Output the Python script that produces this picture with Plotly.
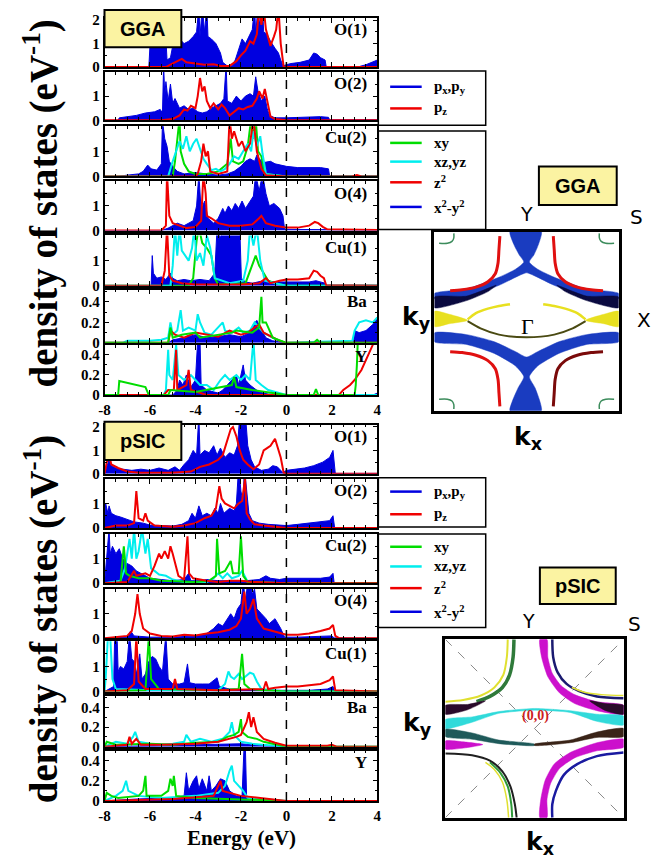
import plotly.graph_objects as go

W, H = 668, 868
SERIF = "Liberation Serif"
SANS = "DejaVu Sans"
BLUE, RED, GREEN, CYAN = "#0000e0", "#f00000", "#00dd00", "#00eeee"

ENERGY_TICKS = [-8, -6, -4, -2, 0, 2, 4]
PANEL_NAMES = ["O(1)", "O(2)", "Cu(2)", "O(4)", "Cu(1)", "Ba", "Y"]
O_LEGEND = ["p<sub>x</sub>,p<sub>y</sub>", "p<sub>z</sub>"]
CU_LEGEND = ["xy", "xz,yz", "z<sup>2</sup>", "x<sup>2</sup>-y<sup>2</sup>"]

# ---------------- GGA DOS (energy eV, states/eV) ----------------
GGA_O1_PXPY = [(-8,0),(-6.05,0),(-6.0,0.9),(-5.95,1.3),(-5.8,1.35),(-5.6,1.3),(-5.4,1.4),(-5.3,1.2),(-5.25,0.3),(-5.1,0.4),(-5.0,0.9),(-4.9,1.4),(-4.8,1.0),(-4.7,1.2),(-4.5,1.0),(-4.3,1.1),(-4.1,1.3),(-3.95,1.5),(-3.85,2.6),(-3.8,1.3),(-3.7,2.6),(-3.6,1.5),(-3.5,2.6),(-3.45,1.3),(-3.3,1.2),(-3.1,1.0),(-2.9,0.6),(-2.8,0.2),(-2.6,0.05),(-2.4,0.05),(-2.25,0.3),(-2.1,0.8),(-1.95,1.2),(-1.8,1.0),(-1.65,1.3),(-1.5,1.6),(-1.4,2.6),(-1.35,1.4),(-1.25,2.6),(-1.2,1.8),(-1.05,2.6),(-1.0,1.5),(-0.85,1.4),(-0.7,1.1),(-0.5,0.8),(-0.35,0.6),(-0.25,0.3),(-0.15,0.05),(0.0,0.1),(0.2,0.15),(0.6,0.2),(1.0,0.3),(1.2,0.6),(1.35,0.55),(1.5,0.4),(1.7,0.3),(1.75,0.02),(3.2,0.02),(3.5,0.1),(3.8,0.2),(4.0,0.3)]
GGA_O1_PZ = [(-8,0),(-5.3,0),(-5.1,0.1),(-4.8,0.25),(-4.6,0.35),(-4.4,0.2),(-4.0,0.15),(-3.6,0.1),(-3.2,0.12),(-2.9,0.05),(-2.5,0.05),(-2.2,0.25),(-2.0,0.5),(-1.8,0.7),(-1.6,1.1),(-1.45,1.0),(-1.3,1.4),(-1.2,2.5),(-1.1,1.8),(-1.0,2.5),(-0.9,1.6),(-0.8,1.2),(-0.7,0.9),(-0.55,1.3),(-0.45,1.6),(-0.35,2.5),(-0.25,1.0),(-0.12,0.0),(4,0)]
GGA_O2_PXPY = [(-8,0),(-7.4,0),(-7.35,0.1),(-7.0,0.15),(-6.6,0.2),(-6.2,0.3),(-5.8,0.35),(-5.55,0.45),(-5.45,0.3),(-5.4,2.3),(-5.35,1.0),(-5.3,1.6),(-5.2,0.8),(-5.1,1.5),(-5.0,0.7),(-4.9,0.9),(-4.7,0.5),(-4.5,0.6),(-4.3,0.45),(-4.1,0.5),(-3.9,0.35),(-3.7,0.3),(-3.5,0.35),(-3.3,0.5),(-3.1,0.6),(-2.9,0.7),(-2.75,0.9),(-2.65,2.3),(-2.6,0.8),(-2.4,0.7),(-2.2,1.0),(-2.0,0.8),(-1.8,1.0),(-1.6,1.1),(-1.45,1.0),(-1.35,1.8),(-1.25,1.2),(-1.1,0.8),(-0.95,1.0),(-0.85,0.5),(-0.75,0.2),(-0.5,0.1),(0,0.1),(0.5,0.12),(1.0,0.15),(1.5,0.15),(1.85,0.12),(1.9,0.02),(4,0.02)]
GGA_O2_PZ = [(-8,0),(-5.5,0),(-5.0,0.05),(-4.7,0.2),(-4.5,0.45),(-4.35,0.4),(-4.2,0.6),(-4.0,0.5),(-3.9,1.0),(-3.8,1.75),(-3.7,1.2),(-3.6,1.4),(-3.5,0.8),(-3.35,0.5),(-3.2,0.7),(-3.0,0.45),(-2.85,0.65),(-2.7,0.5),(-2.5,0.2),(-2.3,0.35),(-2.1,0.5),(-1.9,0.45),(-1.7,0.55),(-1.5,0.6),(-1.3,0.9),(-1.2,1.2),(-1.05,0.9),(-0.95,1.3),(-0.85,0.8),(-0.7,0.15),(-0.5,0.05),(0,0),(4,0)]
GGA_CU2_XY = [(-8,0),(-5.0,0),(-4.9,0.6),(-4.8,1.4),(-4.7,2.3),(-4.65,1.0),(-4.5,0.5),(-4.3,0.2),(-4.0,0.1),(-3.5,0.1),(-3.0,0.2),(-2.6,0.5),(-2.45,1.5),(-2.35,0.6),(-2.1,0.5),(-1.9,0.6),(-1.7,1.2),(-1.55,2.3),(-1.45,1.5),(-1.35,2.3),(-1.25,1.0),(-1.1,0.8),(-0.95,0.1),(0,0),(4,0)]
GGA_CU2_XZYZ = [(-8,0),(-5.2,0),(-5.0,0.6),(-4.85,1.0),(-4.7,1.4),(-4.55,1.1),(-4.4,1.6),(-4.25,1.0),(-4.1,1.3),(-3.95,1.5),(-3.8,1.1),(-3.65,0.7),(-3.5,0.5),(-3.3,0.25),(-3.1,0.3),(-2.9,0.2),(-2.7,0.3),(-2.5,0.5),(-2.3,0.8),(-2.1,0.7),(-1.9,1.0),(-1.7,1.3),(-1.55,1.0),(-1.45,1.8),(-1.3,1.2),(-1.15,1.6),(-1.05,0.9),(-0.9,0.1),(0,0),(4,0)]
GGA_CU2_Z2 = [(-8,0),(-4.0,0),(-3.9,0.1),(-3.75,0.6),(-3.65,1.3),(-3.55,0.8),(-3.45,1.0),(-3.35,0.2),(-3.0,0.1),(-2.6,0.2),(-2.5,2.3),(-2.4,1.5),(-2.3,1.8),(-2.1,1.2),(-1.95,1.4),(-1.8,1.0),(-1.6,1.3),(-1.45,2.3),(-1.3,1.0),(-1.1,0.3),(-0.9,0.05),(0,0),(2.9,0),(3.1,0.05),(3.3,0),(4,0)]
GGA_CU2_X2Y2 = [(-8,0),(-7.4,0),(-7.0,0.05),(-6.5,0.1),(-6.3,0.2),(-6.1,0.45),(-5.95,0.3),(-5.7,0.25),(-5.5,0.5),(-5.45,2.2),(-5.35,1.5),(-5.25,1.2),(-5.15,0.6),(-5.0,0.4),(-4.8,0.2),(-4.5,0.1),(-4.0,0.15),(-3.5,0.1),(-3.0,0.05),(-2.6,0.1),(-2.3,0.2),(-2.0,0.4),(-1.8,0.6),(-1.6,0.7),(-1.4,0.6),(-1.3,0.85),(-1.2,0.7),(-1.0,0.55),(-0.7,0.6),(-0.5,0.5),(-0.2,0.45),(0,0.4),(0.5,0.35),(1.0,0.35),(1.5,0.35),(1.85,0.3),(1.9,0.02),(4,0.02)]
GGA_O4_PXPY = [(-8,0),(-5.5,0),(-5.2,0.1),(-4.8,0.3),(-4.5,0.2),(-4.1,0.4),(-3.95,1.0),(-3.85,2.3),(-3.75,0.8),(-3.6,1.2),(-3.45,0.5),(-3.2,0.3),(-3.0,0.5),(-2.8,0.9),(-2.7,0.7),(-2.55,1.0),(-2.4,0.8),(-2.25,1.1),(-2.1,0.9),(-1.95,1.2),(-1.8,0.9),(-1.6,1.2),(-1.45,1.4),(-1.35,2.3),(-1.2,1.6),(-1.05,2.3),(-0.9,1.5),(-0.75,1.0),(-0.55,1.1),(-0.3,0.9),(-0.15,0.6),(-0.08,0.05),(0.5,0.05),(1.5,0.05),(3.0,0.02),(4,0.02)]
GGA_O4_PZ = [(-8,0),(-5.5,0),(-5.3,0.2),(-5.25,2.3),(-5.15,0.6),(-5.0,0.3),(-4.7,0.2),(-4.4,0.1),(-4.0,0.15),(-3.75,0.4),(-3.65,2.3),(-3.55,1.5),(-3.5,0.6),(-3.3,0.5),(-3.0,0.3),(-2.5,0.2),(-2.0,0.2),(-1.5,0.25),(-1.2,0.5),(-1.1,0.6),(-0.9,0.3),(-0.5,0.2),(0,0.12),(0.5,0.12),(1.0,0.2),(1.25,0.35),(1.4,0.3),(1.6,0.15),(1.8,0.05),(3.0,0.02),(4,0.02)]
GGA_CU1_XY = [(-8,0),(-4.3,0),(-4.1,0.3),(-3.95,1.8),(-3.85,2.3),(-3.7,1.7),(-3.5,1.5),(-3.3,1.2),(-3.15,0.3),(-3.0,0.05),(-1.8,0.1),(-1.5,0.8),(-1.35,1.2),(-1.2,0.8),(-1.0,0.5),(-0.8,0.2),(-0.5,0.1),(0,0),(4,0)]
GGA_CU1_XZYZ = [(-8,0),(-5.1,0),(-5.0,0.8),(-4.9,2.3),(-4.8,1.2),(-4.7,2.3),(-4.6,1.4),(-4.45,1.2),(-4.3,1.0),(-4.15,1.5),(-4.05,2.3),(-3.95,1.0),(-3.8,1.3),(-3.65,0.8),(-3.5,2.0),(-3.35,1.5),(-3.15,0.3),(-2.5,0.1),(-1.9,0.2),(-1.7,1.0),(-1.6,2.3),(-1.45,1.6),(-1.3,2.3),(-1.15,1.0),(-0.95,0.2),(-0.5,0.1),(0,0),(4,0)]
GGA_CU1_Z2 = [(-8,0),(-5.5,0),(-5.35,0.6),(-5.25,2.3),(-5.15,0.4),(-5.0,0.2),(-4.6,0.1),(-4.0,0.05),(-2.0,0.05),(-1.2,0.1),(-0.9,0.3),(-0.7,0.1),(-0.3,0.2),(0,0.25),(0.5,0.25),(1.0,0.3),(1.2,0.6),(1.35,0.55),(1.5,0.4),(1.65,0.3),(1.75,0.02),(4,0)]
GGA_CU1_X2Y2 = [(-8,0),(-5.95,0),(-5.9,1.2),(-5.85,0.5),(-5.7,0.3),(-5.5,0.35),(-5.3,0.25),(-5.1,0.5),(-5.0,0.3),(-4.8,0.2),(-4.5,0.25),(-4.2,0.2),(-3.8,0.25),(-3.4,0.2),(-3.15,0.5),(-3.05,2.3),(-2.9,1.9),(-2.8,2.3),(-2.6,2.1),(-2.4,2.3),(-2.2,2.2),(-2.05,2.3),(-1.98,0.3),(-1.8,0.15),(-1.5,0.1),(-1.0,0.2),(-0.5,0.15),(0,0.15),(0.5,0.15),(1.0,0.15),(1.3,0.2),(1.7,0.1),(1.8,0.02),(4,0.02)]
GGA_BA_XY = [(-8,0),(-5.2,0),(-5.1,0.15),(-5.0,0.05),(-4.6,0.08),(-4.0,0.1),(-3.8,0.05),(-2.4,0.1),(-2.2,0.12),(-1.5,0.1),(-1.2,0.15),(-1.1,0.45),(-1.05,0.2),(-0.9,0.2),(-0.6,0.05),(0,0),(1.2,0.0),(1.35,0.03),(1.5,0),(4,0)]
GGA_BA_XZYZ = [(-8,0),(-7.2,0),(-7.0,0.02),(-6.0,0.02),(-5.5,0.03),(-5.2,0.05),(-5.1,0.2),(-5.0,0.08),(-4.8,0.12),(-4.65,0.32),(-4.55,0.12),(-4.3,0.15),(-4.0,0.12),(-3.9,0.28),(-3.8,0.2),(-3.6,0.1),(-3.3,0.08),(-2.8,0.2),(-2.7,0.12),(-2.4,0.1),(-2.1,0.15),(-1.9,0.1),(-1.6,0.12),(-1.4,0.2),(-1.2,0.15),(-1.0,0.1),(-0.6,0.05),(-0.3,0.02),(0,0),(2.9,0.02),(3.0,0.12),(3.2,0.2),(3.5,0.22),(3.8,0.2),(4,0.25)]
GGA_BA_Z2 = [(-8,0),(-5.2,0),(-5.1,0.12),(-4.9,0.08),(-4.5,0.05),(-4.0,0.1),(-3.0,0.06),(-2.5,0.12),(-2.0,0.08),(-1.7,0.1),(-1.4,0.15),(-1.2,0.18),(-1.0,0.1),(-0.6,0.05),(-0.3,0.02),(0,0),(4,0)]
GGA_BA_X2Y2 = [(-8,0),(-5.2,0),(-5.0,0.03),(-4.5,0.05),(-4.0,0.08),(-3.5,0.05),(-3.0,0.06),(-2.5,0.08),(-2.0,0.06),(-1.6,0.1),(-1.45,0.18),(-1.3,0.22),(-1.15,0.15),(-0.9,0.05),(-0.6,0.02),(0,0),(2.95,0),(3.0,0.12),(3.2,0.1),(3.5,0.12),(3.8,0.18),(4,0.25)]
GGA_Y_XY = [(-8,0),(-7.4,0),(-7.35,0.14),(-7.0,0.12),(-6.6,0.1),(-6.2,0.08),(-6.05,0.0),(-5.2,0.0),(-5.1,0.05),(-4.0,0.03),(-2.4,0.1),(-2.3,0.18),(-2.2,0.08),(-1.5,0.05),(0,0),(1.2,0),(1.3,0.06),(1.4,0),(3.0,0),(3.05,0.1),(3.1,0.3),(3.15,0.6),(4,0.6)]
GGA_Y_XZYZ = [(-8,0),(-5.4,0),(-5.3,0.05),(-5.2,0.45),(-5.15,0.2),(-5.0,0.15),(-4.85,0.5),(-4.75,0.2),(-4.5,0.15),(-4.2,0.2),(-4.0,0.15),(-3.8,0.1),(-3.5,0.1),(-3.2,0.05),(-2.9,0.15),(-2.7,0.2),(-2.5,0.15),(-2.2,0.2),(-2.0,0.15),(-1.8,0.2),(-1.6,0.15),(-1.45,0.55),(-1.35,0.15),(-1.1,0.1),(-0.8,0.05),(0,0),(4,0)]
GGA_Y_Z2 = [(-8,0),(-5.4,0),(-5.2,0.05),(-4.95,0.05),(-4.85,0.45),(-4.8,0.05),(-4.4,0.1),(-4.3,0.25),(-4.2,0.05),(-3.5,0),(2.3,0),(2.5,0.05),(2.8,0.1),(3.0,0.15),(3.3,0.25),(3.5,0.35),(3.7,0.45),(3.8,0.5),(3.85,0.6),(4,0.6)]
GGA_Y_X2Y2 = [(-8,0),(-5.0,0),(-4.8,0.05),(-4.7,0.15),(-4.55,0.1),(-4.4,0.2),(-4.2,0.08),(-4.0,0.15),(-3.9,0.55),(-3.8,0.55),(-3.75,0.1),(-3.5,0.05),(-3.0,0.02),(-2.8,0.05),(-2.6,0.1),(-2.4,0.15),(-2.2,0.2),(-2.1,0.1),(-1.9,0.3),(-1.8,0.15),(-1.6,0.1),(-1.2,0.03),(-0.8,0.01),(0,0),(3.8,0),(4,0.02)]

# ---------------- pSIC DOS ----------------
SIC_O1_PXPY = [(-8,0),(-7.9,0.3),(-7.8,0.6),(-7.7,0.35),(-7.5,0.25),(-7.2,0.2),(-6.8,0.15),(-6.4,0.2),(-6.0,0.15),(-5.6,0.25),(-5.2,0.15),(-4.9,0.3),(-4.7,0.15),(-4.5,0.4),(-4.3,0.6),(-4.1,1.0),(-3.95,0.8),(-3.85,2.5),(-3.8,0.8),(-3.6,1.0),(-3.4,0.9),(-3.2,1.2),(-3.05,0.8),(-2.9,1.1),(-2.7,0.7),(-2.5,0.9),(-2.3,0.8),(-2.15,1.2),(-2.05,2.5),(-1.9,2.0),(-1.8,2.5),(-1.7,1.2),(-1.55,0.6),(-1.4,0.3),(-1.1,0.15),(-0.8,0.2),(-0.6,0.35),(-0.4,0.3),(-0.15,0.05),(0,0.15),(0.4,0.2),(0.8,0.25),(1.2,0.35),(1.6,0.5),(1.9,0.7),(2.05,1.0),(2.15,0.02),(4,0.02)]
SIC_O1_PZ = [(-8,0),(-7.9,0.5),(-7.8,0.8),(-7.7,0.4),(-7.4,0.25),(-7.0,0.1),(-6.5,0.05),(-5.0,0.05),(-4.2,0.1),(-3.8,0.3),(-3.4,0.4),(-3.0,0.6),(-2.8,0.8),(-2.6,1.4),(-2.45,1.9),(-2.35,2.0),(-2.2,1.6),(-2.05,1.0),(-1.9,0.6),(-1.7,0.4),(-1.45,0.2),(-1.2,0.4),(-1.0,1.0),(-0.85,1.1),(-0.7,1.2),(-0.5,1.5),(-0.4,1.2),(-0.25,0.7),(-0.12,0.05),(0,0),(4,0)]
SIC_O2_PXPY = [(-8,0),(-7.95,1.0),(-7.85,0.6),(-7.8,0.9),(-7.7,0.6),(-7.5,0.5),(-7.3,0.45),(-7.0,0.35),(-6.7,0.25),(-6.3,0.2),(-6.0,0.12),(-5.5,0.1),(-5.0,0.08),(-4.6,0.15),(-4.3,0.3),(-4.15,0.6),(-4.0,0.4),(-3.85,0.9),(-3.7,0.5),(-3.5,0.6),(-3.3,0.5),(-3.15,0.8),(-3.0,0.6),(-2.9,1.0),(-2.75,0.6),(-2.5,0.8),(-2.3,0.7),(-2.2,1.0),(-2.1,2.5),(-2.0,1.5),(-1.9,1.0),(-1.85,2.5),(-1.75,1.5),(-1.65,0.6),(-1.5,0.3),(-1.2,0.2),(-0.8,0.15),(-0.3,0.1),(0,0.1),(0.5,0.15),(1.0,0.2),(1.5,0.25),(1.9,0.3),(2.05,0.5),(2.12,0.02),(4,0.02)]
SIC_O2_PZ = [(-8,0),(-7.5,0.1),(-7.0,0.1),(-6.7,0.2),(-6.6,1.5),(-6.5,0.4),(-6.3,0.3),(-6.2,0.6),(-6.1,0.3),(-5.8,0.1),(-5.0,0.05),(-4.5,0.1),(-4.0,0.2),(-3.6,0.4),(-3.3,0.5),(-3.1,0.8),(-2.95,1.7),(-2.85,1.2),(-2.7,1.0),(-2.5,0.9),(-2.3,0.8),(-2.1,1.0),(-1.95,1.1),(-1.82,2.0),(-1.75,0.6),(-1.6,0.35),(-1.4,0.15),(-1.0,0.1),(-0.5,0.05),(0,0),(4,0)]
SIC_CU2_XY = [(-8,0),(-7.3,0),(-7.15,1.5),(-7.05,0.4),(-6.9,0.3),(-6.5,0.2),(-6.0,0.2),(-5.5,0.1),(-4.0,0.05),(-3.4,0.1),(-3.1,0.3),(-3.05,1.8),(-2.95,0.4),(-2.7,0.5),(-2.45,0.9),(-2.35,0.4),(-2.1,0.4),(-2.0,1.9),(-1.9,0.3),(-1.7,0.05),(0,0),(4,0)]
SIC_CU2_XZYZ = [(-8,0),(-7.3,0.1),(-7.1,0.6),(-7.0,1.2),(-6.9,1.8),(-6.8,1.0),(-6.7,2.2),(-6.6,1.0),(-6.5,1.3),(-6.35,2.2),(-6.2,1.2),(-6.1,1.8),(-5.95,0.6),(-5.8,0.5),(-5.6,0.35),(-5.3,0.3),(-5.0,0.15),(-4.5,0.05),(-3.5,0.05),(-3.2,0.2),(-3.0,0.4),(-2.8,0.2),(-2.6,0.4),(-2.4,0.2),(-2.1,0.3),(-1.95,0.5),(-1.85,0.3),(-1.7,0.05),(0,0),(4,0)]
SIC_CU2_Z2 = [(-8,0),(-7.0,0.05),(-6.7,0.5),(-6.6,0.3),(-6.2,0.4),(-6.0,0.3),(-5.8,0.7),(-5.6,1.2),(-5.5,1.0),(-5.35,1.3),(-5.2,1.0),(-5.1,1.5),(-5.0,1.2),(-4.9,0.8),(-4.75,0.3),(-4.5,0.15),(-4.35,1.9),(-4.28,0.4),(-4.1,0.2),(-3.5,0.1),(-3.0,0.05),(-2.5,0.1),(-2.0,0.1),(-1.5,0.05),(0,0),(4,0)]
SIC_CU2_X2Y2 = [(-8,0),(-7.8,2.2),(-7.75,1.2),(-7.65,1.5),(-7.5,1.2),(-7.35,1.4),(-7.2,1.0),(-7.0,0.8),(-6.8,0.7),(-6.6,0.5),(-6.4,0.4),(-6.2,0.3),(-6.0,0.2),(-5.5,0.15),(-5.0,0.1),(-4.5,0.15),(-4.3,0.4),(-4.2,0.1),(-3.8,0.1),(-3.5,0.15),(-3.0,0.1),(-2.5,0.1),(-1.8,0.1),(-1.2,0.15),(-0.9,0.3),(-0.7,0.2),(-0.3,0.15),(0,0.2),(0.5,0.2),(1.0,0.2),(1.5,0.2),(1.9,0.25),(2.05,0.4),(2.1,0.02),(4,0.02)]
SIC_O4_PXPY = [(-8,0),(-7.0,0.05),(-6.85,0.3),(-6.7,0.1),(-6.0,0.05),(-5.0,0.05),(-4.0,0.1),(-3.5,0.2),(-3.2,0.4),(-3.0,0.6),(-2.8,0.5),(-2.6,0.8),(-2.45,1.0),(-2.3,0.8),(-2.15,1.2),(-2.0,1.4),(-1.9,2.3),(-1.8,1.5),(-1.7,2.3),(-1.6,2.3),(-1.5,1.8),(-1.4,2.0),(-1.3,1.2),(-1.1,1.0),(-0.9,0.8),(-0.75,0.6),(-0.5,0.8),(-0.25,0.4),(-0.08,0.05),(0.5,0.05),(2.0,0.1),(2.1,0.02),(4,0)]
SIC_O4_PZ = [(-8,0),(-7.5,0.05),(-7.0,0.1),(-6.8,0.3),(-6.65,1.0),(-6.55,1.8),(-6.45,1.0),(-6.3,0.4),(-6.0,0.2),(-5.5,0.1),(-5.0,0.08),(-4.5,0.15),(-4.0,0.12),(-3.5,0.2),(-3.0,0.25),(-2.5,0.35),(-2.2,0.5),(-2.0,0.8),(-1.85,1.9),(-1.75,1.0),(-1.6,1.2),(-1.45,1.6),(-1.3,0.8),(-1.0,0.4),(-0.6,0.3),(-0.3,0.25),(0,0.15),(0.5,0.15),(1.0,0.2),(1.5,0.3),(1.9,0.4),(2.05,0.55),(2.15,0.1),(2.3,0.02),(4,0)]
SIC_CU1_XY = [(-8,0),(-6.2,0.05),(-6.05,2.2),(-5.95,0.5),(-5.6,0.1),(-3.0,0.05),(-2.1,0.1),(-1.95,1.5),(-1.85,0.3),(-1.6,0.1),(-1.0,0.05),(0,0),(4,0)]
SIC_CU1_XZYZ = [(-8,0),(-7.95,0.5),(-7.85,2.2),(-7.75,2.2),(-7.65,0.5),(-7.5,0.1),(-6.0,0.05),(-3.0,0.05),(-2.7,0.3),(-2.55,0.8),(-2.45,0.6),(-2.3,0.5),(-2.1,0.7),(-1.95,0.5),(-1.8,0.6),(-1.6,0.75),(-1.45,0.7),(-1.3,0.4),(-1.1,0.1),(0,0),(4,0)]
SIC_CU1_Z2 = [(-8,0),(-7.0,0.05),(-6.7,0.3),(-6.6,2.2),(-6.5,0.4),(-6.2,0.1),(-5.0,0.1),(-4.9,0.5),(-4.8,0.1),(-3.0,0.05),(-1.0,0.1),(-0.9,0.4),(-0.8,0.1),(-0.5,0.15),(0,0.2),(0.5,0.2),(1.0,0.25),(1.5,0.3),(1.9,0.45),(2.05,0.6),(2.15,0.05),(4,0)]
SIC_CU1_X2Y2 = [(-8,0),(-7.6,0.2),(-7.55,2.3),(-7.45,2.3),(-7.4,0.8),(-7.3,1.0),(-7.15,0.9),(-7.0,1.2),(-6.9,2.3),(-6.8,1.3),(-6.7,1.2),(-6.6,0.7),(-6.45,1.5),(-6.35,0.5),(-6.2,0.7),(-6.05,1.2),(-5.9,1.4),(-5.75,1.3),(-5.6,1.0),(-5.45,0.8),(-5.3,2.3),(-5.2,0.5),(-5.0,0.3),(-4.7,0.3),(-4.5,0.35),(-4.35,1.1),(-4.25,0.35),(-4.0,0.3),(-3.7,0.3),(-3.4,0.3),(-3.05,0.55),(-2.95,0.2),(-2.5,0.1),(-2.0,0.08),(-1.5,0.05),(-1.0,0.05),(-0.5,0.05),(0,0.05),(1.0,0.05),(1.8,0.1),(2.05,0.2),(2.12,0.02),(4,0)]
SIC_BA_XY = [(-8,0),(-7.9,0.05),(-7.5,0.02),(-6.0,0.03),(-5.0,0.02),(-4.0,0.04),(-3.0,0.05),(-2.6,0.1),(-2.3,0.12),(-2.1,0.15),(-2.0,0.28),(-1.95,0.15),(-1.7,0.1),(-1.3,0.08),(-1.0,0.05),(0,0),(4,0)]
SIC_BA_XZYZ = [(-8,0),(-7.5,0.05),(-7.0,0.03),(-6.75,0.1),(-6.65,0.15),(-6.5,0.05),(-6.0,0.03),(-5.5,0.02),(-5.0,0.03),(-4.5,0.05),(-4.4,0.12),(-4.2,0.05),(-3.8,0.08),(-3.3,0.05),(-2.8,0.08),(-2.5,0.15),(-2.4,0.25),(-2.3,0.12),(-2.0,0.05),(-1.5,0.03),(0,0),(4,0)]
SIC_BA_Z2 = [(-8,0),(-7.0,0.02),(-6.9,0.1),(-6.8,0.03),(-6.6,0.08),(-6.4,0.02),(-5.5,0.02),(-4.0,0.03),(-3.0,0.05),(-2.5,0.08),(-2.2,0.1),(-2.0,0.12),(-1.85,0.2),(-1.75,0.25),(-1.65,0.35),(-1.55,0.2),(-1.45,0.3),(-1.3,0.15),(-1.0,0.08),(-0.5,0.04),(0,0.01),(1.8,0.01),(2.0,0.02),(2.2,0),(4,0)]
SIC_BA_X2Y2 = [(-8,0),(-6.0,0.01),(-3.0,0.02),(-2.0,0.03),(-1.5,0.02),(0,0),(4,0)]
SIC_Y_XY = [(-8,0),(-7.9,0.08),(-7.7,0.05),(-7.4,0.03),(-6.5,0.05),(-6.3,0.1),(-6.2,0.25),(-6.15,0.05),(-5.5,0.05),(-5.2,0.1),(-5.1,0.22),(-5.0,0.15),(-4.95,0.25),(-4.85,0.05),(-4.0,0.03),(0,0),(4,0)]
SIC_Y_XZYZ = [(-8,0),(-7.5,0.05),(-7.2,0.1),(-7.05,0.2),(-6.95,0.1),(-6.5,0.05),(-5.5,0.03),(-4.0,0.05),(-3.0,0.08),(-2.7,0.15),(-2.5,0.3),(-2.4,0.35),(-2.3,0.2),(-2.1,0.15),(-1.9,0.1),(-1.7,0.03),(0,0),(4,0)]
SIC_Y_Z2 = [(-8,0),(-5.0,0.02),(-3.2,0.05),(-3.0,0.15),(-2.9,0.2),(-2.8,0.1),(-2.0,0.05),(0,0),(4,0)]
SIC_Y_X2Y2 = [(-8,0),(-6.5,0.02),(-5.0,0.03),(-4.5,0.05),(-4.4,0.28),(-4.3,0.1),(-4.1,0.2),(-3.95,0.25),(-3.85,0.12),(-3.7,0.22),(-3.5,0.1),(-3.4,0.25),(-3.3,0.1),(-3.1,0.15),(-2.9,0.22),(-2.7,0.2),(-2.5,0.1),(-2.2,0.05),(-1.95,0.05),(-1.87,0.5),(-1.8,0.5),(-1.75,0.03),(-1.5,0),(4,0)]

# ---------------- Fermi-surface outlines (k in units of pi/a) ----------------
GGA_BLUE_UP = [(-0.18,1.0),(-0.14,0.86),(-0.08,0.74),(-0.03,0.66),(-0.12,0.58),(-0.3,0.49),(-0.65,0.36),(-1,0.31),(-1,0.25),(-0.65,0.27),(-0.3,0.40),(-0.1,0.50),(0,0.54),(0.1,0.50),(0.3,0.40),(0.65,0.27),(1,0.25),(1,0.31),(0.65,0.36),(0.3,0.49),(0.12,0.58),(0.03,0.66),(0.08,0.74),(0.13,0.86),(0.16,1.0)]
GGA_NAVY_L = [(-1,0.27),(-0.65,0.28),(-0.33,0.40),(-0.42,0.33),(-0.65,0.23),(-1,0.15)]
GGA_BLUE_DN = [(-0.18,-1.0),(-0.15,-0.88),(-0.09,-0.74),(-0.03,-0.62),(-0.12,-0.5),(-0.35,-0.36),(-0.65,-0.26),(-1,-0.23),(-1,-0.13),(-0.65,-0.15),(-0.35,-0.23),(-0.12,-0.34),(0,-0.40),(0.12,-0.34),(0.35,-0.23),(0.65,-0.15),(1,-0.13),(1,-0.23),(0.65,-0.26),(0.35,-0.36),(0.12,-0.5),(0.03,-0.62),(0.09,-0.74),(0.14,-0.88),(0.16,-1.0)]
GGA_RED_ARC = [(-0.29,0.95),(-0.30,0.8),(-0.31,0.65),(-0.34,0.53),(-0.42,0.44),(-0.55,0.38),(-0.7,0.35),(-0.83,0.34)]
GGA_YEL_L = [(-1,0.11),(-0.85,0.08),(-0.64,0.01),(-0.85,-0.03),(-1,-0.06)]
GGA_YEL_ARC = [(-0.64,0.02),(-0.55,0.09),(-0.42,0.14),(-0.3,0.17),(-0.18,0.19)]
GGA_LENS_LOW = [(-0.64,0.0),(-0.5,-0.08),(-0.3,-0.15),(0,-0.18),(0.3,-0.15),(0.5,-0.08),(0.64,0.0)]
GGA_CORNER = [(-0.95,0.87),(-0.86,0.87),(-0.81,0.89),(-0.79,0.93),(-0.79,0.98)]

SIC_YEL_TL = [(-0.30,1.0),(-0.31,0.8),(-0.35,0.6),(-0.45,0.46),(-0.6,0.37),(-0.8,0.32),(-1,0.30)]
SIC_GRN_TL = [(-0.23,1.0),(-0.24,0.8),(-0.28,0.6),(-0.36,0.46),(-0.5,0.36),(-0.65,0.3)]
SIC_PURP_L = [(-1,0.26),(-0.75,0.27),(-0.55,0.31),(-0.75,0.21),(-1,0.16)]
SIC_MAG_TR = [(0.14,1.0),(0.15,0.8),(0.2,0.62),(0.3,0.48),(0.45,0.38),(0.7,0.3),(1,0.26),(1,0.16),(0.7,0.2),(0.45,0.28),(0.28,0.4),(0.15,0.58),(0.08,0.8),(0.06,1.0)]
SIC_PURP_R = [(1,0.26),(0.8,0.28),(0.62,0.31),(0.8,0.2),(1,0.16)]
SIC_NAVY_TR = [(0.2,1.0),(0.21,0.8),(0.26,0.63),(0.36,0.5),(0.5,0.42),(0.7,0.36),(1,0.34)]
SIC_YEL_TR = [(0.42,0.46),(0.55,0.41),(0.75,0.38),(1,0.37)]
SIC_MAG_BL = [(-1,-0.14),(-0.8,-0.15),(-0.58,-0.18),(-0.8,-0.22),(-1,-0.23)]
SIC_BLK_BL = [(-1,-0.28),(-0.7,-0.3),(-0.5,-0.36),(-0.36,-0.48),(-0.27,-0.65),(-0.22,-0.85),(-0.2,-1.0)]
SIC_GRN_BL = [(-0.5,-0.38),(-0.38,-0.5),(-0.3,-0.65),(-0.26,-0.85),(-0.25,-1.0)]
SIC_YEL_BL = [(-0.55,-0.38),(-0.45,-0.46),(-0.36,-0.6),(-0.31,-0.8),(-0.29,-1.0)]
SIC_MAG_BR = [(1,-0.21),(0.7,-0.25),(0.45,-0.33),(0.28,-0.45),(0.18,-0.62),(0.14,-0.8),(0.14,-1.0),(0.06,-1.0),(0.07,-0.8),(0.12,-0.58),(0.22,-0.4),(0.4,-0.27),(0.7,-0.16),(1,-0.12)]
SIC_NAVY_BR = [(1,-0.27),(0.7,-0.31),(0.48,-0.4),(0.33,-0.52),(0.24,-0.7),(0.2,-0.85),(0.2,-1.0)]
SIC_CYAN = [(-1,0.10),(-0.7,0.13),(-0.4,0.19),(0,0.225),(0.4,0.2),(0.7,0.16),(1,0.14),(1,0.04),(0.7,0.08),(0.4,0.18),(0,0.205),(-0.4,0.17),(-0.7,0.07),(-1,0.0)]
SIC_TEAL = [(-1,-0.01),(-0.7,-0.05),(-0.4,-0.13),(0,-0.175),(0,-0.19),(-0.4,-0.17),(-0.7,-0.12),(-1,-0.09)]
SIC_BROWN = [(0,-0.175),(0.4,-0.13),(0.7,-0.04),(1,0.0),(1,-0.09),(0.7,-0.1),(0.4,-0.16),(0,-0.19)]

# ---------------- layout geometry (pixels) ----------------
X0, X1 = 100, 377
GGA_ROWS = [(13, 63), (68, 117), (123, 174), (179, 229), (234, 285), (289, 343), (345, 396)]
SIC_ROWS = [(426, 476), (481, 531), (537, 587), (593, 643), (646, 697), (701, 753), (757, 808)]

GGA_SERIES = [
    [(GGA_O1_PXPY, BLUE), (GGA_O1_PZ, RED)],
    [(GGA_O2_PXPY, BLUE), (GGA_O2_PZ, RED)],
    [(GGA_CU2_X2Y2, BLUE), (GGA_CU2_XY, GREEN), (GGA_CU2_XZYZ, CYAN), (GGA_CU2_Z2, RED)],
    [(GGA_O4_PXPY, BLUE), (GGA_O4_PZ, RED)],
    [(GGA_CU1_X2Y2, BLUE), (GGA_CU1_XY, GREEN), (GGA_CU1_XZYZ, CYAN), (GGA_CU1_Z2, RED)],
    [(GGA_BA_X2Y2, BLUE), (GGA_BA_XZYZ, CYAN), (GGA_BA_Z2, RED), (GGA_BA_XY, GREEN)],
    [(GGA_Y_X2Y2, BLUE), (GGA_Y_XZYZ, CYAN), (GGA_Y_Z2, RED), (GGA_Y_XY, GREEN)],
]
SIC_SERIES = [
    [(SIC_O1_PXPY, BLUE), (SIC_O1_PZ, RED)],
    [(SIC_O2_PXPY, BLUE), (SIC_O2_PZ, RED)],
    [(SIC_CU2_X2Y2, BLUE), (SIC_CU2_XZYZ, CYAN), (SIC_CU2_XY, GREEN), (SIC_CU2_Z2, RED)],
    [(SIC_O4_PXPY, BLUE), (SIC_O4_PZ, RED)],
    [(SIC_CU1_X2Y2, BLUE), (SIC_CU1_XZYZ, CYAN), (SIC_CU1_XY, GREEN), (SIC_CU1_Z2, RED)],
    [(SIC_BA_X2Y2, BLUE), (SIC_BA_XZYZ, CYAN), (SIC_BA_XY, GREEN), (SIC_BA_Z2, RED)],
    [(SIC_Y_X2Y2, BLUE), (SIC_Y_XZYZ, CYAN), (SIC_Y_XY, GREEN), (SIC_Y_Z2, RED)],
]
Y_RANGES = [[0, 2.1], [0, 2.0], [0, 2.0], [0, 2.0], [0, 2.0], [0, 0.52], [0, 0.5]]
Y_TICKS = [[0, 1, 2], [0, 1], [0, 1], [0, 1], [0, 1], [0, 0.2, 0.4], [0, 0.2, 0.4]]
Y_MINOR = [0.5, 0.5, 0.5, 0.5, 0.5, 0.1, 0.1]


def fx(x):
    return x / W


def fy(y):
    return 1 - y / H


def unzip(pts):
    return [p[0] for p in pts], [p[1] for p in pts]


fig = go.Figure()
layout = dict(width=W, height=H, margin=dict(l=0, r=0, t=0, b=0, pad=0),
              paper_bgcolor="white", plot_bgcolor="white", showlegend=False)
shapes, annots = [], []
tickfont = dict(family=SERIF, size=15, color="black", weight="bold")


def note(x, y, text, size, fam=SERIF, color="black", xanchor="center", angle=0):
    annots.append(dict(x=fx(x), y=fy(y), xref="paper", yref="paper", text=text,
                       showarrow=False, xanchor=xanchor, yanchor="middle", textangle=angle,
                       borderpad=0, font=dict(family=fam, size=size, color=color)))


ax = 0
for rows, series_sets in ((GGA_ROWS, GGA_SERIES), (SIC_ROWS, SIC_SERIES)):
    for p, ((top, bot), series) in enumerate(zip(rows, series_sets)):
        ax += 1
        xa, ya = f"x{ax}", f"y{ax}"
        for k, (pts, col) in enumerate(series):
            xs, ys = unzip(pts)
            if col == BLUE:
                fig.add_trace(go.Scatter(x=xs, y=ys, mode="lines", fill="tozeroy",
                                         fillcolor=col, line=dict(color=col, width=1),
                                         xaxis=xa, yaxis=ya, hoverinfo="skip"))
            else:
                fig.add_trace(go.Scatter(x=xs, y=ys, mode="lines",
                                         line=dict(color=col, width=2),
                                         xaxis=xa, yaxis=ya, hoverinfo="skip"))
        last = (p == len(rows) - 1)
        layout[f"xaxis{ax}"] = dict(
            domain=[fx(X0), fx(X1)], range=[-8, 4], anchor=ya,
            tickvals=ENERGY_TICKS, ticktext=[str(v) for v in ENERGY_TICKS],
            ticks="inside", ticklen=5, tickwidth=1.2, tickcolor="black",
            minor=dict(dtick=0.5, ticks="inside", ticklen=3, tickcolor="black", tickwidth=1),
            mirror="allticks", showline=True, linecolor="black", linewidth=1.5,
            showgrid=False, zeroline=False, showticklabels=last, tickfont=tickfont)
        layout[f"yaxis{ax}"] = dict(
            domain=[fy(bot), fy(top)], range=Y_RANGES[p], anchor=xa,
            tickvals=Y_TICKS[p], ticktext=[("%g" % v) for v in Y_TICKS[p]],
            ticks="inside", ticklen=5, tickwidth=1.2, tickcolor="black",
            minor=dict(dtick=Y_MINOR[p], ticks="inside", ticklen=3, tickcolor="black", tickwidth=1),
            mirror="allticks", showline=True, linecolor="black", linewidth=1.5,
            showgrid=False, zeroline=False, tickfont=tickfont)
        note(367, top + 12, "<b>%s</b>" % PANEL_NAMES[p], 17, xanchor="right")
    # dashed Fermi level line
    shapes.append(dict(type="line", xref=f"x{ax}", yref="paper", x0=0, x1=0,
                       y0=fy(rows[-1][1]), y1=fy(rows[0][0]),
                       line=dict(color="black", width=1.5, dash="dash")))


def label_box(x0, y0, x1, y1, text, size=20):
    shapes.append(dict(type="rect", xref="paper", yref="paper",
                       x0=fx(x0), x1=fx(x1), y0=fy(y1), y1=fy(y0),
                       fillcolor="#fbf3a2", line=dict(color="black", width=2)))
    note((x0 + x1) / 2, (y0 + y1) / 2, "<b>%s</b>" % text, size, fam="Liberation Sans")


def legend_box(y0, y1, items):
    shapes.append(dict(type="rect", xref="paper", yref="paper",
                       x0=fx(378), x1=fx(487), y0=fy(y1), y1=fy(y0),
                       fillcolor="white", line=dict(color="black", width=1.5)))
    for text, col, ly in items:
        shapes.append(dict(type="line", xref="paper", yref="paper",
                           x0=fx(390), x1=fx(422), y0=fy(ly), y1=fy(ly),
                           line=dict(color=col, width=2.5)))
        note(433, ly, "<b>%s</b>" % text, 15, xanchor="left")


label_box(100, 5, 178, 43, "GGA")
label_box(100, 423, 178, 462, "pSIC")
label_box(541, 164, 620, 203, "GGA")
label_box(542, 571, 619, 608, "pSIC")

legend_box(67, 122, [(O_LEGEND[0], BLUE, 83), (O_LEGEND[1], RED, 105)])
legend_box(128, 228, [(CU_LEGEND[0], GREEN, 140), (CU_LEGEND[1], CYAN, 159),
                      (CU_LEGEND[2], RED, 180), (CU_LEGEND[3], BLUE, 205)])
legend_box(480, 530, [(O_LEGEND[0], BLUE, 494), (O_LEGEND[1], RED, 517)])
legend_box(537, 632, [(CU_LEGEND[0], GREEN, 550), (CU_LEGEND[1], CYAN, 570),
                      (CU_LEGEND[2], RED, 592), (CU_LEGEND[3], BLUE, 616)])

for yc in (201, 623):
    note(36, yc, "<b>density of states (eV<sup>-1</sup>)</b>", 39, angle=-90)
note(239, 846, "<b>Energy (eV)</b>", 21)

# ---------------- Fermi surface panels ----------------
FS = {"gga": (15, (435, 622), (230, 412)), "sic": (16, (446, 627), (644, 825))}
for key, (n, (a0, a1), (b0, b1)) in FS.items():
    layout[f"xaxis{n}"] = dict(domain=[fx(a0), fx(a1)], range=[-1, 1], anchor=f"y{n}",
                               showgrid=False, zeroline=False, showticklabels=False, ticks="",
                               showline=True, mirror=True, linecolor="black", linewidth=2.5)
    layout[f"yaxis{n}"] = dict(domain=[fy(b1), fy(b0)], range=[-1, 1], anchor=f"x{n}",
                               showgrid=False, zeroline=False, showticklabels=False, ticks="",
                               showline=True, mirror=True, linecolor="black", linewidth=2.5)


def poly(pts, color, n, sx=1, sy=1, width=0.5):
    xs = [p[0] * sx for p in pts]
    ys = [p[1] * sy for p in pts]
    fig.add_trace(go.Scatter(x=xs + [xs[0]], y=ys + [ys[0]], mode="lines", fill="toself",
                             fillcolor=color, line=dict(color=color, width=width, shape="spline",
                                                        smoothing=0.6),
                             xaxis=f"x{n}", yaxis=f"y{n}", hoverinfo="skip"))


def curve(pts, color, n, width=2, sx=1, sy=1, dash="solid"):
    fig.add_trace(go.Scatter(x=[p[0] * sx for p in pts], y=[p[1] * sy for p in pts],
                             mode="lines", line=dict(color=color, width=width, shape="spline",
                                                     smoothing=0.8, dash=dash),
                             xaxis=f"x{n}", yaxis=f"y{n}", hoverinfo="skip"))


# GGA Fermi surface
poly(GGA_BLUE_UP, "#1a3cc0", 15)
poly(GGA_NAVY_L, "#0a0a40", 15)
poly(GGA_NAVY_L, "#0a0a40", 15, sx=-1)
poly(GGA_BLUE_DN, "#1a3cc0", 15)
curve(GGA_RED_ARC, "#e01010", 15, width=3)
curve(GGA_RED_ARC, "#e01010", 15, width=3, sx=-1)
curve(GGA_RED_ARC, "#e01010", 15, width=3, sy=-1)
curve(GGA_RED_ARC, "#7a0a0a", 15, width=3, sx=-1, sy=-1)
poly(GGA_YEL_L, "#e8e020", 15)
poly(GGA_YEL_L, "#e8e020", 15, sx=-1)
curve(GGA_YEL_ARC, "#e8e020", 15, width=2.5)
curve(GGA_YEL_ARC, "#e8e020", 15, width=2.5, sx=-1)
curve(GGA_LENS_LOW, "#4a4a12", 15, width=2)
for sx, sy in ((1, 1), (-1, 1), (1, -1), (-1, -1)):
    curve(GGA_CORNER, "#3c8c5c", 15, width=1.5, sx=sx, sy=sy)

# pSIC Fermi surface
curve([(-1, -1), (1, 1)], "#888888", 16, width=1, dash="dash")
curve([(-1, 1), (1, -1)], "#888888", 16, width=1, dash="dash")
curve(SIC_YEL_TL, "#e0e030", 16, width=2)
curve(SIC_GRN_TL, "#2f7a3a", 16, width=3.5)
poly(SIC_PURP_L, "#2a0a2a", 16)
poly(SIC_MAG_TR, "#cc10cc", 16)
poly(SIC_PURP_R, "#2a0a2a", 16)
curve(SIC_NAVY_TR, "#1a1a70", 16, width=2.5)
curve(SIC_YEL_TR, "#e0e030", 16, width=1.5)
poly(SIC_MAG_BL, "#cc10cc", 16)
curve(SIC_YEL_BL, "#e0e030", 16, width=1.5)
curve(SIC_GRN_BL, "#2f9a3a", 16, width=2)
curve(SIC_BLK_BL, "#202020", 16, width=2)
poly(SIC_MAG_BR, "#cc10cc", 16)
curve(SIC_NAVY_BR, "#1a1aa0", 16, width=2.5)
poly(SIC_CYAN, "#30dada", 16)
poly(SIC_TEAL, "#1f5a5a", 16)
poly(SIC_BROWN, "#3a2418", 16)

# Fermi-surface labels
note(528, 212, "Y", 19, fam=SANS)
note(640, 215, "S", 20, fam=SANS)
note(648, 320, "X", 20, fam=SANS)
note(417, 318, "<b>k<sub>y</sub></b>", 25, fam=SANS)
note(530, 440, "<b>k<sub>x</sub></b>", 25, fam=SANS)
note(529, 326, "Γ", 22)
note(530, 625, "Y", 19, fam=SANS)
note(638, 628, "S", 20, fam=SANS)
note(418, 730, "<b>k<sub>y</sub></b>", 25, fam=SANS)
note(543, 851, "<b>k<sub>x</sub></b>", 25, fam=SANS)
note(538, 722, "<b>(0,0)</b>", 14, color="#cc2020")

layout["shapes"] = shapes
layout["annotations"] = annots
fig.update_layout(**layout)
fig.write_html("out.html", config={"displayModeBar": False},
               post_script="document.body.style.margin='0';document.body.style.padding='0';")
